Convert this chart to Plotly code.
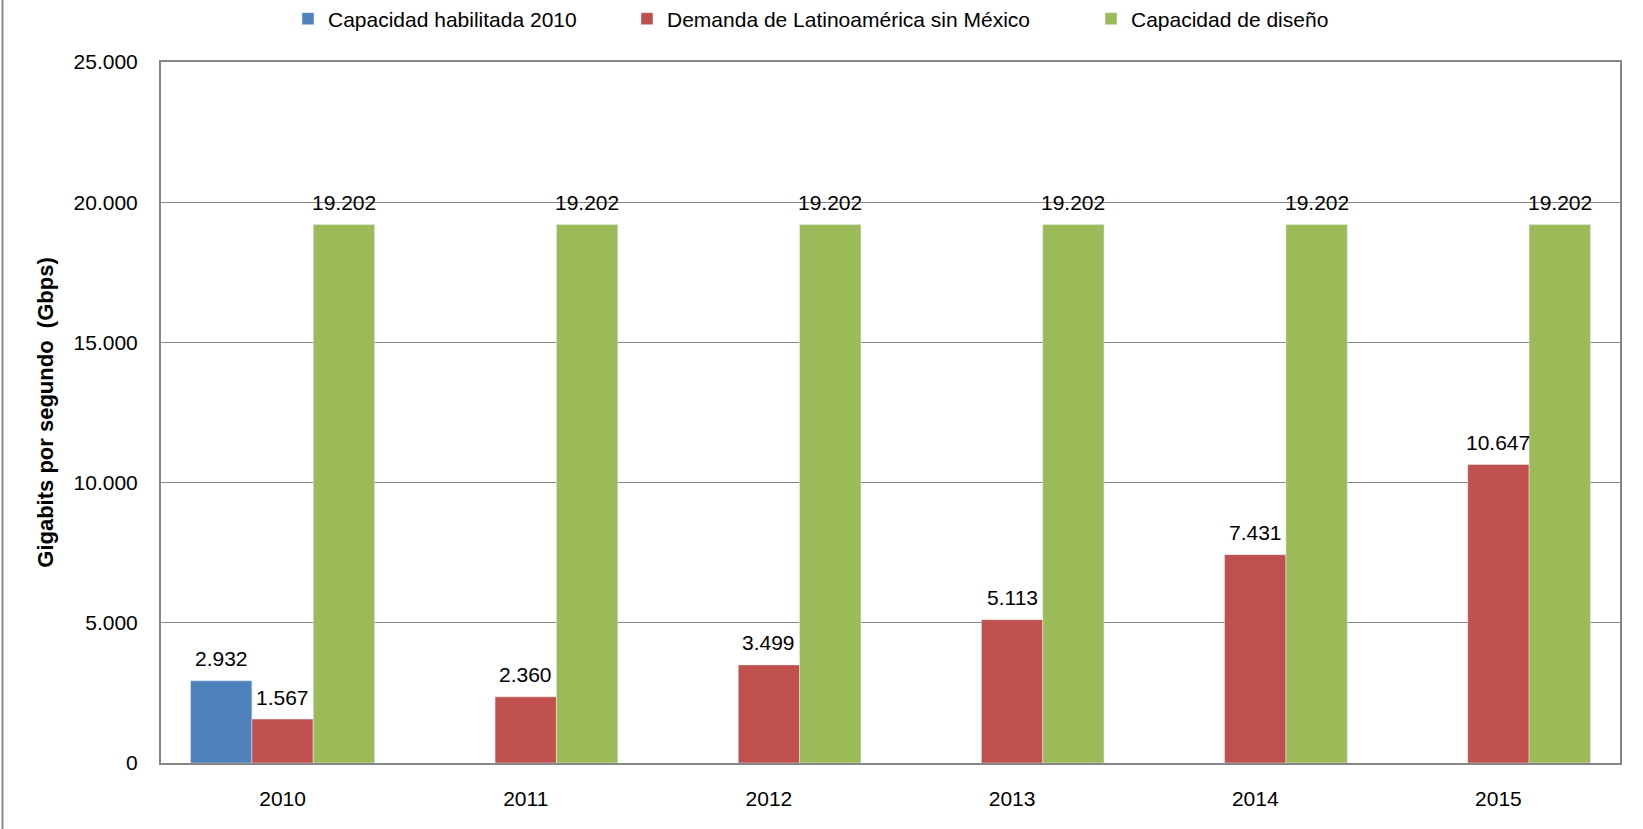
import plotly.graph_objects as go

years = [2010, 2011, 2012, 2013, 2014, 2015]
capacidad_habilitada = [2932, None, None, None, None, None]
demanda = [1567, 2360, 3499, 5113, 7431, 10647]
capacidad_diseno = [19202, 19202, 19202, 19202, 19202, 19202]

series_names = ["Capacidad habilitada 2010", "Demanda de Latinoamérica sin México", "Capacidad de diseño"]
series_values = [capacidad_habilitada, demanda, capacidad_diseno]
colors = ["#4F81BD", "#C0504D", "#9BBB59"]

y_ticks = [0, 5000, 10000, 15000, 20000, 25000]
y_ticklabels = ["0", "5.000", "10.000", "15.000", "20.000", "25.000"]

W, H = 1643, 829
ML, MR, MT, MB = 161, 23, 62, 66
PW = W - ML - MR
PH = H - MT - MB
BARGAP = 0.243
FONT = "Liberation Sans, Arial, sans-serif"
FS = 21

def fmt(v):
    return f"{v:,}".replace(",", ".")

legend_ids = ["legend", "legend2", "legend3"]
legend_left_px = [288, 627, 1091]

fig = go.Figure()
for k, (name, vals, col) in enumerate(zip(series_names, series_values, colors)):
    fig.add_trace(go.Bar(x=years, y=vals, name=name, marker_color=col,
                         legend=legend_ids[k], showlegend=True))

bar_w = (1 - BARGAP) / 3
annotations = []
for k, vals in enumerate(series_values):
    for yr, v in zip(years, vals):
        if v is None:
            continue
        annotations.append(dict(
            x=yr + (k - 1) * bar_w, y=v, xref="x", yref="y", text=fmt(v),
            showarrow=False, yshift=22,
            font=dict(family=FONT, size=FS, color="#000000"),
        ))

x_border = (2.5 - ML) / PW
shapes = [dict(type="line", xref="paper", yref="paper",
               x0=x_border, x1=x_border, y0=-MB / PH, y1=1 + MT / PH,
               line=dict(color="#8c8c8c", width=2))]

legends = {}
for lid, lx in zip(legend_ids, legend_left_px):
    legends[lid] = dict(
        orientation="h", visible=True,
        x=(lx - ML) / PW, xanchor="left", y=1 + (MT - 19) / PH, yanchor="middle",
        font=dict(family=FONT, size=FS, color="#000000"),
        bgcolor="rgba(0,0,0,0)",
    )

fig.update_layout(
    width=W, height=H,
    margin=dict(l=ML, r=MR, t=MT, b=MB, autoexpand=False),
    paper_bgcolor="white", plot_bgcolor="white",
    barmode="group", bargap=BARGAP, bargroupgap=0,
    font=dict(family=FONT, size=FS, color="#000000"),
    showlegend=True,
    annotations=annotations,
    shapes=shapes,
    **legends,
)
fig.update_xaxes(
    tickvals=years, ticktext=[str(y) for y in years],
    showgrid=False, showline=True, linecolor="#868686", linewidth=2,
    mirror=True, ticks="outside", ticklen=16, tickcolor="rgba(0,0,0,0)",
    zeroline=False,
    tickfont=dict(family=FONT, size=FS, color="#000000"),
)
fig.update_yaxes(
    range=[0, 25000], tickvals=y_ticks, ticktext=y_ticklabels,
    showgrid=True, gridcolor="#868686", gridwidth=1,
    showline=True, linecolor="#868686", linewidth=2, mirror=True,
    ticks="outside", ticklen=17, tickcolor="rgba(0,0,0,0)", zeroline=False,
    tickfont=dict(family=FONT, size=FS, color="#000000"),
    title=dict(text="<b>Gigabits por segundo  (Gbps)</b>", standoff=14,
               font=dict(family=FONT, size=22, color="#000000")),
)

fig.write_html("out.html", config={"displayModeBar": False},
               post_script="document.body.style.margin='0px';")
